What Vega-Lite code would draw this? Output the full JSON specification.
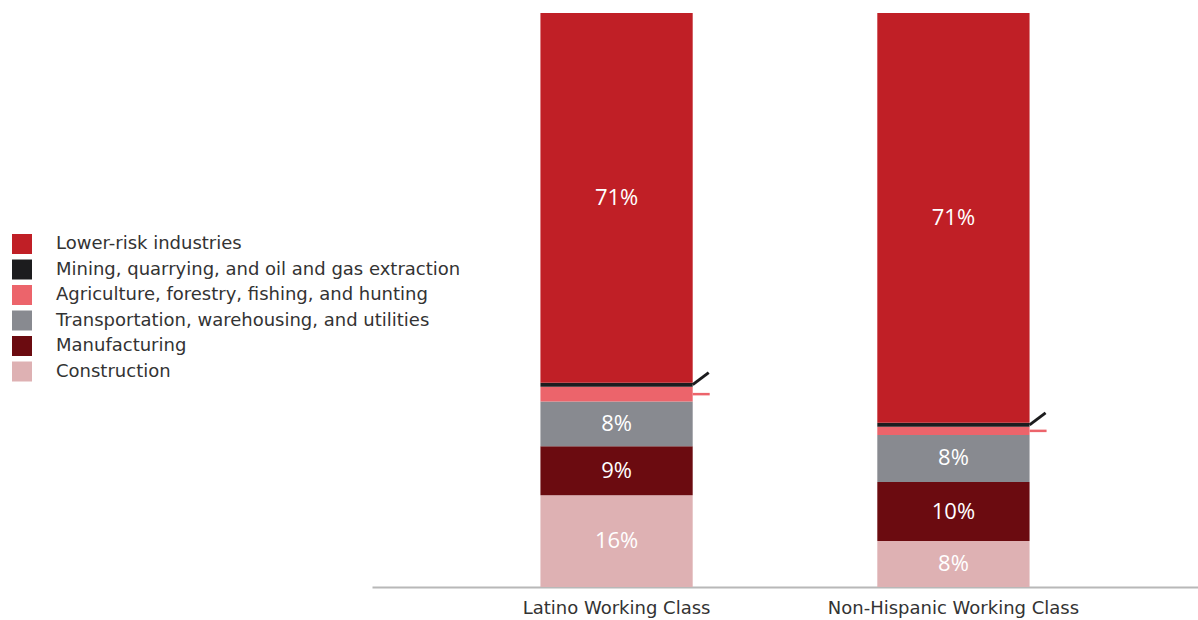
{
  "$schema": "https://vega.github.io/schema/vega-lite/v6.json",
  "autosize": "none",
  "width": 826,
  "height": 574,
  "padding": {"left": 372, "top": 13, "right": 0, "bottom": 33},
  "background": "white",
  "config": {"view": {"stroke": null}, "font": "Open Sans"},
  "data": {"values": [
    {"group": "Latino Working Class", "industry": "Construction", "value": 16.0, "label": "16%"},
    {"group": "Latino Working Class", "industry": "Manufacturing", "value": 8.5, "label": "9%"},
    {"group": "Latino Working Class", "industry": "Transportation, warehousing, and utilities", "value": 7.8, "label": "8%"},
    {"group": "Latino Working Class", "industry": "Agriculture, forestry, fishing, and hunting", "value": 2.6, "label": ""},
    {"group": "Latino Working Class", "industry": "Mining, quarrying, and oil and gas extraction", "value": 0.7, "label": ""},
    {"group": "Latino Working Class", "industry": "Lower-risk industries", "value": 64.4, "label": "71%"},
    {"group": "Non-Hispanic Working Class", "industry": "Construction", "value": 8.0, "label": "8%"},
    {"group": "Non-Hispanic Working Class", "industry": "Manufacturing", "value": 10.3, "label": "10%"},
    {"group": "Non-Hispanic Working Class", "industry": "Transportation, warehousing, and utilities", "value": 8.2, "label": "8%"},
    {"group": "Non-Hispanic Working Class", "industry": "Agriculture, forestry, fishing, and hunting", "value": 1.4, "label": ""},
    {"group": "Non-Hispanic Working Class", "industry": "Mining, quarrying, and oil and gas extraction", "value": 0.7, "label": ""},
    {"group": "Non-Hispanic Working Class", "industry": "Lower-risk industries", "value": 71.4, "label": "71%"}
  ]},
  "transform": [
    {"stack": "value", "groupby": ["group"], "as": ["v0", "v1"]}
  ],
  "encoding": {
    "x": {"field": "group", "type": "nominal", "sort": null,
      "scale": {"paddingInner": 0.548, "paddingOuter": 0.5},
      "axis": {"title": null, "labelAngle": 0, "labelFontSize": 18, "labelColor": "#333333", "labelPadding": 12,
        "ticks": false, "domainColor": "#b8b8b8", "domainWidth": 2, "labelFont": "DejaVu Sans", "labelLimit": 600}}
  },
  "layer": [
    {
      "mark": {"type": "bar"},
      "encoding": {
        "y": {"field": "v0", "type": "quantitative", "scale": {"domain": [0, 100], "nice": false}, "axis": null},
        "y2": {"field": "v1"},
        "color": {"field": "industry", "type": "nominal",
          "scale": {
            "domain": ["Lower-risk industries", "Mining, quarrying, and oil and gas extraction", "Agriculture, forestry, fishing, and hunting", "Transportation, warehousing, and utilities", "Manufacturing", "Construction"],
            "range": ["#C01F26", "#1C1C1E", "#EC646B", "#888A90", "#6B0B10", "#DEB1B3"]
          },
          "legend": {"title": null, "orient": "none", "legendX": -360, "legendY": 221,
            "symbolType": "square", "symbolSize": 400, "symbolStrokeWidth": 0, "symbolOpacity": 1,
            "labelFontSize": 18, "labelColor": "#333333", "labelOffset": 24, "rowPadding": 5.5,
            "labelFont": "DejaVu Sans", "labelLimit": 600, "padding": 0}
        }
      }
    },
    {
      "transform": [
        {"filter": "datum.label != ''"},
        {"fold": ["v0", "v1"], "as": ["k", "pos"]}
      ],
      "mark": {"type": "text", "color": "white", "fontSize": 22, "font": "Open Sans", "baseline": "middle"},
      "encoding": {
        "y": {"aggregate": "mean", "field": "pos", "type": "quantitative"},
        "text": {"field": "label", "type": "nominal"},
        "detail": {"field": "industry"}
      }
    },
    {
      "transform": [
        {"filter": "datum.industry == 'Agriculture, forestry, fishing, and hunting'"},
        {"fold": ["v0", "v1"], "as": ["k", "pos"]}
      ],
      "mark": {"type": "rule", "color": "#EC646B", "strokeWidth": 2.5, "x2Offset": 17},
      "encoding": {
        "x": {"field": "group", "type": "nominal", "bandPosition": 1},
        "x2": {"field": "group", "bandPosition": 1},
        "y": {"aggregate": "mean", "field": "pos", "type": "quantitative"}
      }
    },
    {
      "transform": [
        {"filter": "datum.industry == 'Mining, quarrying, and oil and gas extraction'"},
        {"fold": ["v0", "v1"], "as": ["k", "pos"]}
      ],
      "mark": {"type": "rule", "color": "#1C1C1E", "strokeWidth": 3, "x2Offset": 16, "y2Offset": -12},
      "encoding": {
        "x": {"field": "group", "type": "nominal", "bandPosition": 1},
        "x2": {"field": "group", "bandPosition": 1},
        "y": {"aggregate": "mean", "field": "pos", "type": "quantitative"},
        "y2": {"aggregate": "mean", "field": "pos"}
      }
    }
  ]
}
